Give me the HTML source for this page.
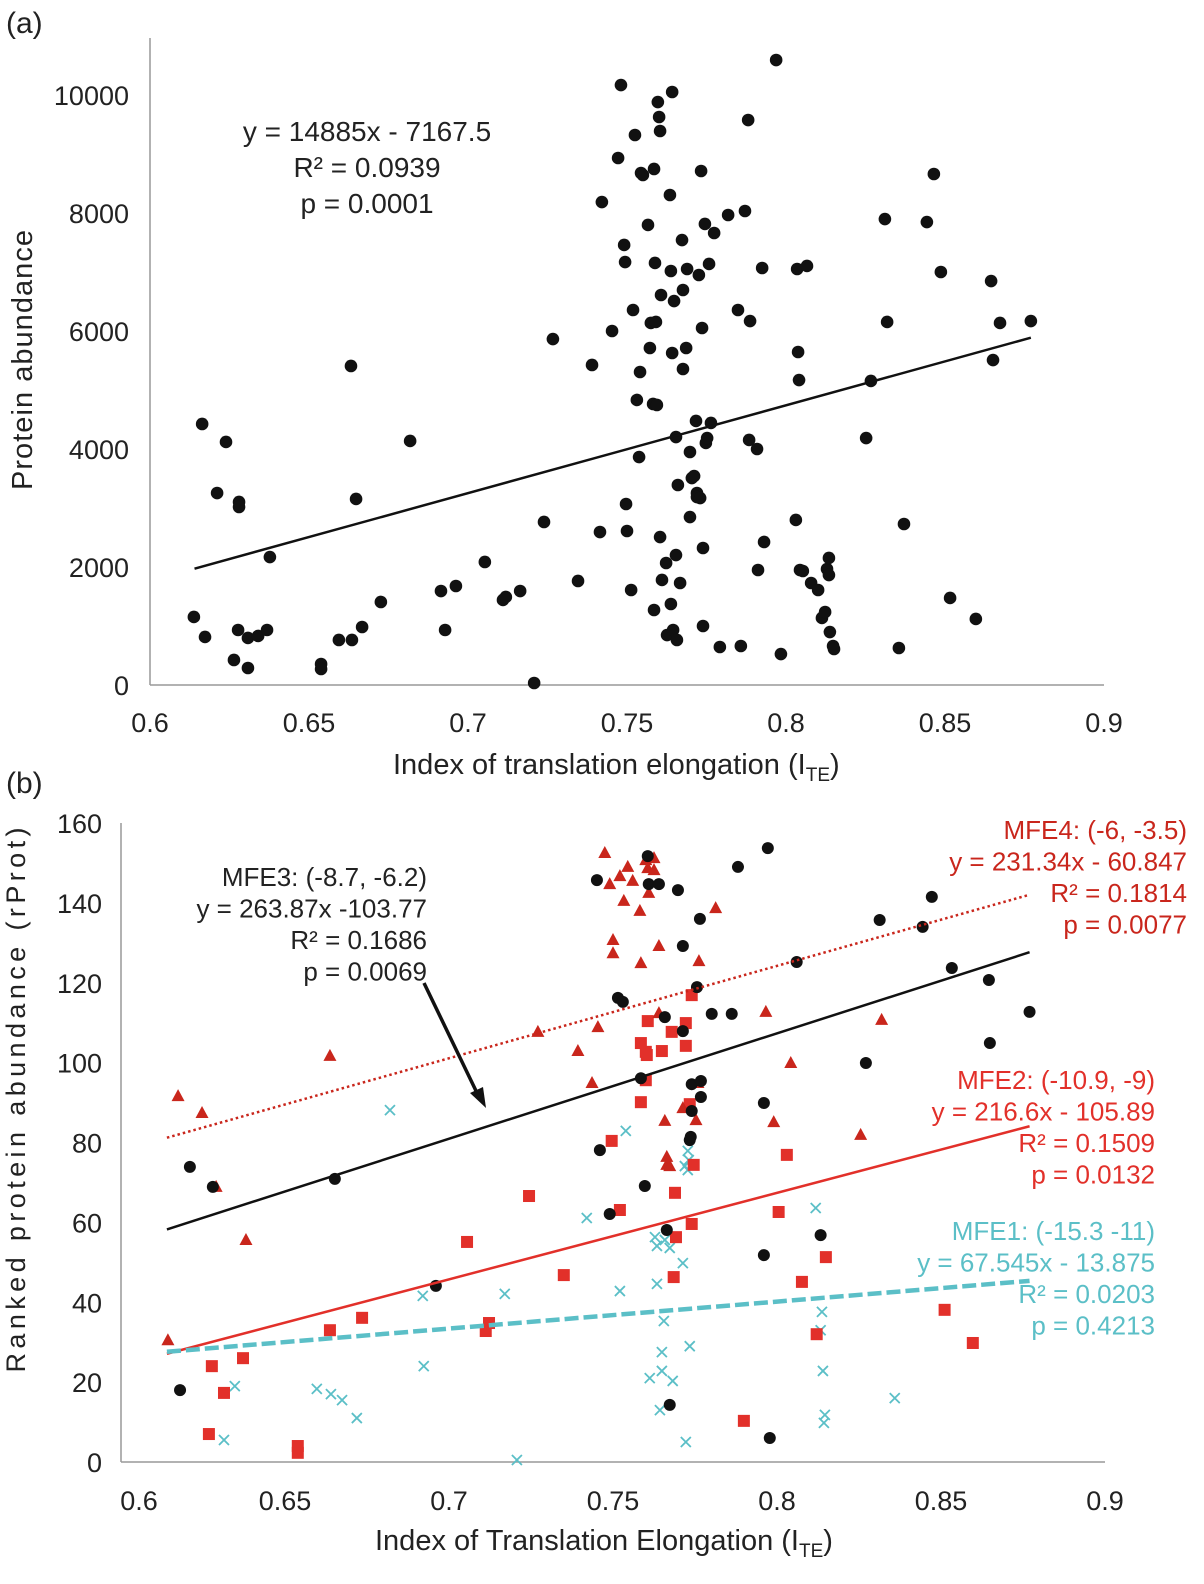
<!DOCTYPE html>
<html><head><meta charset="utf-8">
<style>
html,body{margin:0;padding:0;background:#fff;}
svg{display:block;font-family:"Liberation Sans",Arial,sans-serif;}
</style></head>
<body>
<svg id="fig" width="1204" height="1584" viewBox="0 0 1204 1584">
<text x="6" y="33" font-size="30" fill="#222">(a)</text>
<text x="6" y="793" font-size="30" fill="#222">(b)</text>
<g id="pa"></g>
<g id="pb"></g>
</svg>
<script>
// ---- Panel (a) data ----
const aPx = [194,205,202,217,226,234,238,239,239,248,248,258,267,270,321,321,339,351,352,356,362,381,410,441,445,456,485,503,506,520,534,544,553,578,592,600,602,612,618,621,624,625,626,627,631,633,635,637,639,640,641,643,648,650,651,653,654,654,655,656,657,658,659,660,660,661,662,666,667,670,671,671,672,672,673,674,676,676,677,678,680,682,683,683,686,687,690,690,692,694,696,697,697,699,700,701,702,703,703,705,706,707,709,711,714,720,728,738,741,745,748,749,750,757,758,762,764,776,781,796,797,798,799,800,803,807,811,818,822,825,827,829,829,830,833,834,866,871,885,887,899,904,927,934,941,950,976,991,993,1000,1031];
const aPy = [617,637,424,493,442,660,630,502,507,638,668,636,630,557,664,669,640,366,640,499,627,602,441,591,630,586,562,600,597,591,683,522,339,581,365,532,202,331,158,85,245,262,504,531,590,310,135,400,457,372,173,175,225,348,323,404,610,169,263,322,405,102,117,131,537,295,580,563,635,195,271,604,92,353,630,301,437,555,640,485,583,240,369,290,348,269,517,452,478,476,421,493,497,275,498,171,328,548,626,224,443,438,264,423,233,647,215,310,646,211,120,440,321,449,570,268,542,60,654,520,269,352,380,570,571,266,583,590,618,612,569,558,575,632,646,649,438,381,219,322,648,524,222,174,272,598,619,281,360,323,321];
const aX = aPx.map(p => +(0.6 + (p-150)/3180).toFixed(4));
const aY = aPy.map(p => Math.round((685-p)*10000/590));
const aXTicks = [0.6,0.65,0.7,0.75,0.8,0.85,0.9];
const aXTickLabels = ["0.6","0.65","0.7","0.75","0.8","0.85","0.9"];
const aYTicks = [0,2000,4000,6000,8000,10000];
const aFit = [14885, -7167.5];

// ---- Panel (b) data ----
const mfe3Px=[180,190,213,335,436,597,600,610,618,623,641,645,648,649,659,665,667,670,678,683,683,690,691,692,692,697,700,701,701,712,732,738,764,764,768,770,797,821,866,880,923,932,952,989,990,1030];
const mfe3Py=[1390,1167,1187,1179,1286,880,1150,1214,998,1002,1078,1186,856,884,884,1017,1230,1405,890,946,1031,1140,1137,1084,1111,987,919,1097,1081,1014,1014,867,1103,1255,848,1438,962,1235,1063,920,927,897,968,980,1043,1012];
const mfe4Px=[168,178,202,216,246,330,538,578,592,598,605,610,613,613,620,624,628,633,640,641,646,648,649,654,654,659,659,665,667,667,670,683,696,698,699,716,766,774,791,861,882];
const mfe4Py=[1340,1096,1113,1187,1240,1056,1032,1051,1083,1027,853,884,940,953,876,901,867,881,911,963,860,868,893,858,870,1013,946,1121,1157,1165,1166,1108,1120,1083,961,908,1012,1122,1063,1135,1020];
const mfe2Px=[209,212,224,243,298,298,330,362,467,486,489,529,564,612,620,641,641,646,646,647,648,662,672,674,675,676,686,692,690,694,686,692,744,779,787,802,817,826,945,973];
const mfe2Py=[1434,1366,1393,1358,1446,1453,1330,1318,1242,1331,1323,1196,1275,1141,1210,1102,1043,1052,1080,1055,1021,1051,1032,1277,1193,1237,1046,995,1104,1165,1023,1224,1421,1212,1155,1282,1334,1257,1310,1343];
const mfe1Px=[224,235,342,317,331,357,390,423,424,505,517,587,620,626,650,655,657,657,662,660,662,664,665,670,673,683,685,688,689,688,690,686,816,821,822,823,824,825,895];
const mfe1Py=[1440,1386,1400,1389,1394,1418,1110,1296,1366,1294,1460,1218,1291,1131,1378,1237,1246,1284,1371,1410,1352,1321,1240,1248,1381,1263,1166,1151,1160,1170,1346,1442,1208,1330,1312,1371,1423,1415,1398];
const bxv = p => +(0.6 + (p-121)/3281).toFixed(4);
const byv = p => +((1462-p)/3.994).toFixed(1);
const mfe3X=mfe3Px.map(bxv), mfe3Y=mfe3Py.map(byv);
const mfe4X=mfe4Px.map(bxv), mfe4Y=mfe4Py.map(byv);
const mfe2X=mfe2Px.map(bxv), mfe2Y=mfe2Py.map(byv);
const mfe1X=mfe1Px.map(bxv), mfe1Y=mfe1Py.map(byv);
const bYTicks=[0,20,40,60,80,100,120,140,160];
const fit3=[263.87,-103.77], fit4=[231.34,-60.847], fit2=[216.6,-105.89], fit1=[67.545,-13.875];
const fitRange=[0.614,0.877];

const NS="http://www.w3.org/2000/svg";
function mk(parent,tag,attrs,txt){const e=document.createElementNS(NS,tag);for(const k in attrs)e.setAttribute(k,attrs[k]);if(txt!==undefined)e.textContent=txt;parent.appendChild(e);return e;}

// ---- Panel A ----
const A=document.getElementById('pa');
const ax=v=>150+(v-0.6)/0.3*954, ay=v=>685-v/10000*590;
let e=mk(A,'line',{x1:150,y1:38,x2:150,y2:685,stroke:'#999','stroke-width':1.5});


e=mk(A,'line',{x1:150,y1:685,x2:1104,y2:685,stroke:'#999','stroke-width':1.5});


aYTicks.forEach(t=>{e=mk(A,'text',{x:129,y:ay(t)+10,'font-size':27,'text-anchor':'end',fill:'#222'},String(t));

});
aXTicks.forEach((t,i)=>{e=mk(A,'text',{x:ax(t),y:732,'font-size':27,'text-anchor':'middle',fill:'#222'},aXTickLabels[i]);

});
aX.forEach((x,i)=>{e=mk(A,'circle',{cx:ax(x),cy:ay(aY[i]),r:6.3,fill:'#111'});

});
e=mk(A,'line',{x1:ax(fitRange[0]),y1:ay(aFit[0]*fitRange[0]+aFit[1]),x2:ax(fitRange[1]),y2:ay(aFit[0]*fitRange[1]+aFit[1]),stroke:'#111','stroke-width':2.5});


[["y = 14885x - 7167.5",141],["R² = 0.0939",177],["p = 0.0001",213]].forEach(([t,y])=>{e=mk(A,'text',{x:367,y:y,'font-size':28,'text-anchor':'middle',fill:'#222'},t);

});
e=mk(A,'text',{x:393,y:774,'font-size':29,fill:'#222'});


e.innerHTML='Index of translation elongation (I<tspan font-size="19" dy="7">TE</tspan><tspan dy="-7">)</tspan>';
e=mk(A,'text',{x:0,y:0,'font-size':29,'text-anchor':'middle',fill:'#222',textLength:260,lengthAdjust:'spacing',transform:'translate(32,360) rotate(-90)'},'Protein  abundance');



// ---- Panel B ----
const B=document.getElementById('pb');
const bx=v=>121+(v-0.6)/0.3*984, by=v=>1462-v/160*639;
e=mk(B,'line',{x1:121,y1:823,x2:121,y2:1462,stroke:'#999','stroke-width':1.5});


e=mk(B,'line',{x1:121,y1:1462,x2:1105,y2:1462,stroke:'#999','stroke-width':1.5});


bYTicks.forEach(t=>{e=mk(B,'text',{x:102,y:by(t)+10,'font-size':27,'text-anchor':'end',fill:'#222'},String(t));

});
aXTicks.forEach((t,i)=>{e=mk(B,'text',{x:bx(t)+(i===0?18:0),y:1510,'font-size':27,'text-anchor':'middle',fill:'#222'},aXTickLabels[i]);

});
function fitLine(f,attrs,name){e=mk(B,'line',Object.assign({x1:bx(fitRange[0]),y1:by(f[0]*fitRange[0]+f[1]),x2:bx(fitRange[1]),y2:by(f[0]*fitRange[1]+f[1])},attrs));

}
mfe1X.forEach((x,i)=>{const cx=bx(x),cy=by(mfe1Y[i]);e=mk(B,'path',{d:`M${cx-5},${cy-5}L${cx+5},${cy+5}M${cx-5},${cy+5}L${cx+5},${cy-5}`,stroke:'#5bbfc7','stroke-width':1.8});

});
mfe2X.forEach((x,i)=>{e=mk(B,'rect',{x:bx(x)-6,y:by(mfe2Y[i])-6,width:12,height:12,fill:'#e2302a'});

});
mfe4X.forEach((x,i)=>{const cx=bx(x),cy=by(mfe4Y[i]);e=mk(B,'path',{d:`M${cx},${cy-7}L${cx+6.5},${cy+5}L${cx-6.5},${cy+5}Z`,fill:'#c9261c'});

});
mfe3X.forEach((x,i)=>{e=mk(B,'circle',{cx:bx(x),cy:by(mfe3Y[i]),r:6,fill:'#111'});

});
fitLine(fit4,{stroke:'#c9261c','stroke-width':2.5,'stroke-dasharray':'2.5 3'},'trendline-mfe4');
fitLine(fit3,{stroke:'#111','stroke-width':2.5},'trendline-mfe3');
fitLine(fit2,{stroke:'#e2302a','stroke-width':2.5},'trendline-mfe2');
fitLine(fit1,{stroke:'#5bbfc7','stroke-width':4.5,'stroke-dasharray':'14 5'},'trendline-mfe1');
function label(lines,x,y0,color,name){lines.forEach((t,i)=>{e=mk(B,'text',{x:x,y:y0+i*31.5,'font-size':26,'text-anchor':'end',fill:color},t);

});}
label(["MFE3: (-8.7, -6.2)","y = 263.87x -103.77","R² = 0.1686","p = 0.0069"],427,886,'#222','label-mfe3');
label(["MFE4: (-6, -3.5)","y = 231.34x - 60.847","R² = 0.1814","p = 0.0077"],1187,839,'#c9261c','label-mfe4');
label(["MFE2: (-10.9, -9)","y = 216.6x - 105.89","R² = 0.1509","p = 0.0132"],1155,1089,'#e2302a','label-mfe2');
label(["MFE1: (-15.3 -11)","y = 67.545x - 13.875","R² = 0.0203","p = 0.4213"],1155,1240,'#5bbfc7','label-mfe1');
e=mk(B,'line',{x1:424,y1:983,x2:478,y2:1095,stroke:'#111','stroke-width':3.5});


e=mk(B,'path',{d:'M486,1108 L470,1093 L483,1087 Z',fill:'#111'});


e=mk(B,'text',{x:375,y:1550,'font-size':29,fill:'#222'});


e.innerHTML='Index of Translation Elongation (I<tspan font-size="19" dy="7">TE</tspan><tspan dy="-7">)</tspan>';
e=mk(B,'text',{x:0,y:0,'font-size':27,'text-anchor':'middle',fill:'#222',textLength:545,lengthAdjust:'spacing',transform:'translate(25,1100) rotate(-90)'},'Ranked protein abundance (rProt)');


</script>
</body></html>
